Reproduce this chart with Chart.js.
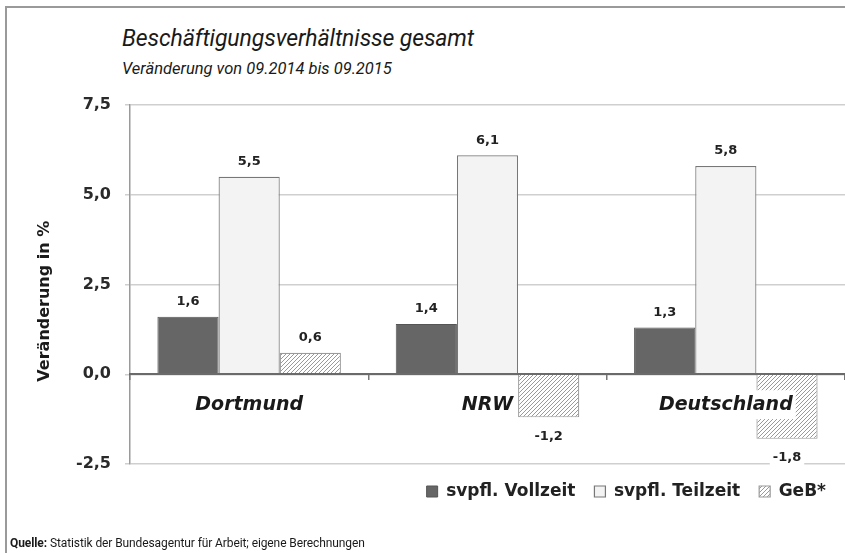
<!DOCTYPE html>
<html>
<head>
<meta charset="utf-8">
<script src="https://cdn.jsdelivr.net/npm/chart.js@4/dist/chart.umd.min.js"></script>
<style>
  html, body { margin: 0; padding: 0; background: #fff; }
  #wrap { position: relative; width: 845px; height: 553px; overflow: hidden; background: #fff; }
  #frame { position: absolute; left: 5px; top: 6px; width: 900px; height: 600px;
           border-left: 2px solid #9a9a9a; border-top: 2px solid #9a9a9a; }
  #c { position: absolute; left: 0; top: 0; }
  .title { position: absolute; left: 122px; top: 27px; font: italic 23px Roboto, sans-serif; color: #1a1a1a; line-height: 1; white-space: nowrap; letter-spacing: -0.1px; }
  .sub { position: absolute; left: 122px; top: 61px; font: italic 16.5px Roboto, sans-serif; color: #1a1a1a; line-height: 1; white-space: nowrap; }
  .src { position: absolute; left: 10px; top: 537px; font: 12px Roboto, sans-serif; color: #1a1a1a; line-height: 1; white-space: nowrap; letter-spacing: -0.1px; }
</style>
</head>
<body>
<div id="wrap">
  <div id="frame"></div>
  <div class="title">Beschäftigungsverhältnisse gesamt</div>
  <div class="sub">Veränderung von 09.2014 bis 09.2015</div>
  <canvas id="c" width="845" height="553"></canvas>
  <div class="src"><b>Quelle:</b> Statistik der Bundesagentur für Arbeit; eigene Berechnungen</div>
</div>
<script>
// ---- data ----
const categories = ['Dortmund', 'NRW', 'Deutschland'];
const seriesNames = ['svpfl. Vollzeit', 'svpfl. Teilzeit', 'GeB*'];
const vollzeit = [1.6, 1.4, 1.3];
const teilzeit = [5.5, 6.1, 5.8];
const geb = [0.6, -1.2, -1.8];
const yTicks = [-2.5, 0, 2.5, 5.0, 7.5];
const yAxisTitle = 'Veränderung in %';

const fmt = v => v.toFixed(1).replace('.', ',');

function hatchPattern() {
  const c = document.createElement('canvas');
  c.width = 4; c.height = 4;
  const x = c.getContext('2d');
  x.fillStyle = '#ffffff';
  x.fillRect(0, 0, 4, 4);
  x.strokeStyle = '#999999';
  x.lineWidth = 1;
  x.beginPath();
  x.moveTo(0, 4); x.lineTo(4, 0);
  x.moveTo(-1, 1); x.lineTo(1, -1);
  x.moveTo(3, 5); x.lineTo(5, 3);
  x.stroke();
  return x.createPattern(c, 'repeat');
}

const valueLabels = {
  id: 'valueLabels',
  afterDatasetsDraw(chart) {
    const ctx = chart.ctx;
    ctx.save();
    ctx.font = 'bold 13px "DejaVu Sans"';
    ctx.textAlign = 'center';
    ctx.textBaseline = 'middle';
    chart.data.datasets.forEach((ds, i) => {
      const meta = chart.getDatasetMeta(i);
      meta.data.forEach((bar, j) => {
        const v = ds.data[j];
        const txt = fmt(v);
        const y = v >= 0 ? bar.y - 15 : bar.y + 19;
        const w = ctx.measureText(txt).width;
        ctx.fillStyle = '#ffffff';
        ctx.fillRect(bar.x - w / 2 - 3, y - 8, w + 6, 16);
        ctx.fillStyle = '#222222';
        ctx.fillText(txt, bar.x, y);
      });
    });
    ctx.restore();
  }
};

Chart.defaults.font.family = '"DejaVu Sans", sans-serif';
Chart.defaults.color = '#222';

new Chart(document.getElementById('c'), {
  type: 'bar',
  data: {
    labels: categories,
    datasets: [
      { label: seriesNames[0], data: vollzeit, backgroundColor: '#666666', borderColor: '#555555', borderWidth: 1 },
      { label: seriesNames[1], data: teilzeit, backgroundColor: '#f3f3f3', borderColor: '#777777', borderWidth: 1.2 },
      { label: seriesNames[2], data: geb, backgroundColor: hatchPattern(), borderColor: '#9a9a9a', borderWidth: 1.2 }
    ]
  },
  options: {
    responsive: false,
    animation: false,
    devicePixelRatio: 1,
    categoryPercentage: 0.77,
    barPercentage: 1.0,
    layout: { padding: { top: 105, right: 0, bottom: 43, left: 0 } },
    plugins: {
      legend: {
        position: 'bottom',
        align: 'end',
        labels: {
          boxWidth: 11, boxHeight: 11, padding: 19,
          font: { size: 17, weight: 'bold' }, color: '#222'
        }
      },
      tooltip: { enabled: false }
    },
    scales: {
      x: {
        position: { y: 0 },
        grid: { drawOnChartArea: false, drawTicks: true, tickLength: 5, color: '#777', lineWidth: 1.5, z: 1 },
        border: { display: true, color: '#6a6a6a', width: 2, z: 1 },
        ticks: {
          z: 2,
          font: { size: 19, weight: 'bold', style: 'italic' },
          color: '#1a1a1a',
          padding: 14,
          showLabelBackdrop: true,
          backdropColor: '#ffffff',
          backdropPadding: { x: 3, y: 3 }
        }
      },
      y: {
        min: yTicks[0],
        max: yTicks[yTicks.length - 1],
        afterBuildTicks: scale => { scale.ticks = yTicks.map(v => ({ value: v })); },
        afterFit: scale => { scale.width = 130; },
        grid: { color: '#cfcfcf', lineWidth: 1.5, tickLength: 5 },
        border: { display: true, color: '#9a9a9a', width: 1.5 },
        ticks: {
          font: { size: 16, weight: 'bold' },
          color: '#2a2a2a',
          padding: 14,
          callback: v => fmt(v)
        },
        title: {
          display: true,
          text: yAxisTitle + '\u00a0\u00a0\u00a0\u00a0\u00a0\u00a0',
          font: { size: 16, weight: 'bold' },
          color: '#1a1a1a',
          padding: { top: 35, bottom: 0 }
        }
      }
    }
  },
  plugins: [valueLabels]
});
</script>
</body>
</html>
